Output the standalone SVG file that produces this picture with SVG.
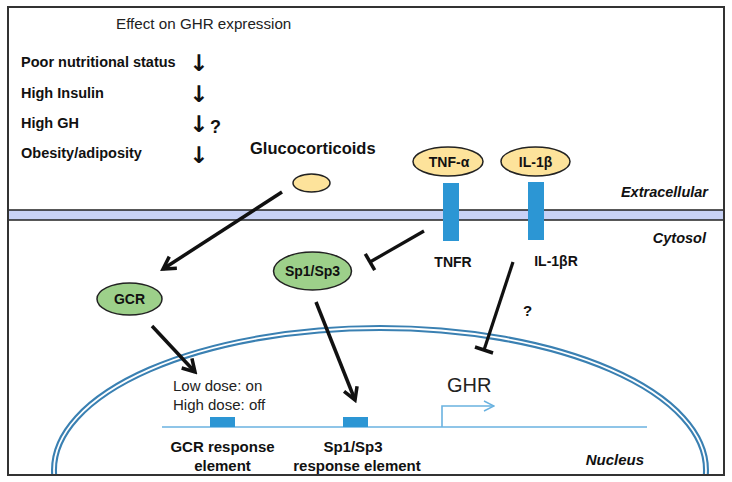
<svg xmlns="http://www.w3.org/2000/svg" width="732" height="482" viewBox="0 0 732 482">
<style>
.b{font-family:"Liberation Sans",Arial,sans-serif;font-weight:bold;fill:#111}
.r{font-family:"Liberation Sans",Arial,sans-serif;fill:#222}
.bi{font-family:"Liberation Sans",Arial,sans-serif;font-weight:bold;font-style:italic;fill:#111}
.ar{font-family:"DejaVu Sans",sans-serif;font-weight:bold;fill:#111;text-anchor:middle;font-size:23px}
.mid{text-anchor:middle}
.end{text-anchor:end}
.yel{fill:#fde39b;stroke:#222;stroke-width:1.5}
.grn{fill:#9dd08a;stroke:#222;stroke-width:1.5}
.rec{fill:#2c96d4}
.act{fill:none;stroke:#111;stroke-width:3.5;marker-end:url(#arr)}
.inh{fill:none;stroke:#111;stroke-width:3.2;marker-end:url(#bar)}
.dna{fill:none;stroke:#6ab2e0;stroke-width:1.6}
</style>
<defs>
<marker id="arr" viewBox="0 0 18 18" refX="15" refY="9" markerWidth="18" markerHeight="18" markerUnits="userSpaceOnUse" orient="auto">
<path d="M3,2 L15,9 L3,16" fill="none" stroke="#111" stroke-width="3.5"/>
</marker>
<marker id="bar" viewBox="-3 -11 6 22" refX="0" refY="0" markerWidth="6" markerHeight="22" markerUnits="userSpaceOnUse" orient="auto">
<path d="M0,-9.5 L0,9.5" stroke="#111" stroke-width="3.5"/>
</marker>
<marker id="opn" viewBox="0 0 12 12" refX="11" refY="6" markerWidth="12" markerHeight="12" markerUnits="userSpaceOnUse" orient="auto">
<path d="M1,1 L11,6 L1,11" fill="none" stroke="#6ab2e0" stroke-width="1.4"/>
</marker>
<clipPath id="frame"><rect x="8" y="7" width="716" height="468"/></clipPath>
</defs>
<rect x="0" y="0" width="732" height="482" fill="#fff"/>
<rect x="8" y="7" width="716" height="468" fill="#fff"/>

<g id="nucleus" clip-path="url(#frame)">
<ellipse cx="380" cy="470" rx="326" ry="142" fill="none" stroke="#3a80b2" stroke-width="6"/>
<ellipse cx="380" cy="470" rx="326" ry="142" fill="none" stroke="#fff" stroke-width="1.8"/>
<text class="bi end" x="644" y="465" font-size="15">Nucleus</text>
</g>

<g id="membrane">
<rect x="8" y="210" width="716" height="10" fill="#c8d2f6" stroke="#222" stroke-width="1.5"/>
<text class="bi end" x="708" y="197" font-size="14.5">Extracellular</text>
<text class="bi end" x="706" y="243" font-size="14.5">Cytosol</text>
</g>

<g id="legend">
<text class="r" x="116" y="29" font-size="15.2">Effect on GHR expression</text>
<text class="b" x="21" y="67" font-size="14.5">Poor nutritional status</text>
<text class="b" x="21" y="98" font-size="14.5">High Insulin</text>
<text class="b" x="21" y="128" font-size="14.5">High GH</text>
<text class="b" x="21" y="158" font-size="14.5">Obesity/adiposity</text>
<text class="ar" x="199" y="71">↓</text>
<text class="ar" x="199" y="102">↓</text>
<text class="ar" x="199" y="132">↓</text>
<text class="ar" x="199" y="163">↓</text>
<text class="b" x="210" y="133" font-size="18">?</text>
</g>

<g id="glucocorticoids">
<text class="b" x="250" y="154" font-size="16.5">Glucocorticoids</text>
<ellipse class="yel" cx="311.5" cy="183" rx="18.5" ry="9"/>
</g>

<g id="tnfr">
<rect class="rec" x="443" y="183" width="16" height="58"/>
<text class="b mid" x="453" y="267" font-size="14">TNFR</text>
</g>
<g id="il1br">
<rect class="rec" x="528" y="182" width="16" height="58"/>
<text class="b mid" x="556" y="266" font-size="14">IL-1βR</text>
</g>
<g id="tnfa">
<ellipse class="yel" cx="448" cy="161.5" rx="35" ry="14.5"/>
<text class="b mid" x="449" y="167" font-size="14">TNF-α</text>
</g>
<g id="il1b">
<ellipse class="yel" cx="535.5" cy="161.5" rx="34.5" ry="14.5"/>
<text class="b mid" x="535.5" y="167" font-size="14">IL-1β</text>
</g>

<g id="gcr">
<ellipse class="grn" cx="129.5" cy="299" rx="32.5" ry="16"/>
<text class="b mid" x="129.5" y="304" font-size="14">GCR</text>
</g>
<g id="sp1sp3">
<ellipse class="grn" cx="312.5" cy="271" rx="39" ry="19"/>
<text class="b mid" x="312.5" y="276" font-size="14">Sp1/Sp3</text>
</g>

<g id="gene">
<path class="dna" d="M162,427 L647,427"/>
<path class="dna" d="M442,427 L442,406 L494,406" marker-end="url(#opn)"/>
<text class="r" x="447" y="392" font-size="20">GHR</text>
</g>
<g id="gcr-re">
<rect class="rec" x="210" y="417" width="25" height="10"/>
<text class="r" x="173" y="391" font-size="15">Low dose: on</text>
<text class="r" x="173" y="410" font-size="15">High dose: off</text>
<text class="b mid" x="222.5" y="452" font-size="15">GCR response</text>
<text class="b mid" x="222.5" y="471" font-size="15">element</text>
</g>
<g id="sp-re">
<rect class="rec" x="343" y="417" width="25" height="10"/>
<text class="b mid" x="353" y="452" font-size="15">Sp1/Sp3</text>
<text class="b mid" x="357" y="471" font-size="15">response element</text>
</g>

<g id="connectors">
<path class="act" d="M282,192 L163,269"/>
<path class="act" d="M152,326 L195,372"/>
<path class="act" d="M316,302 L355,400"/>
<path class="inh" d="M424,231 L370,262"/>
<path class="inh" d="M513,262 L484,350"/>
<text class="b" x="523" y="316" font-size="15">?</text>
</g>

<rect x="8" y="7" width="716" height="468" fill="none" stroke="#333" stroke-width="2"/>
</svg>
